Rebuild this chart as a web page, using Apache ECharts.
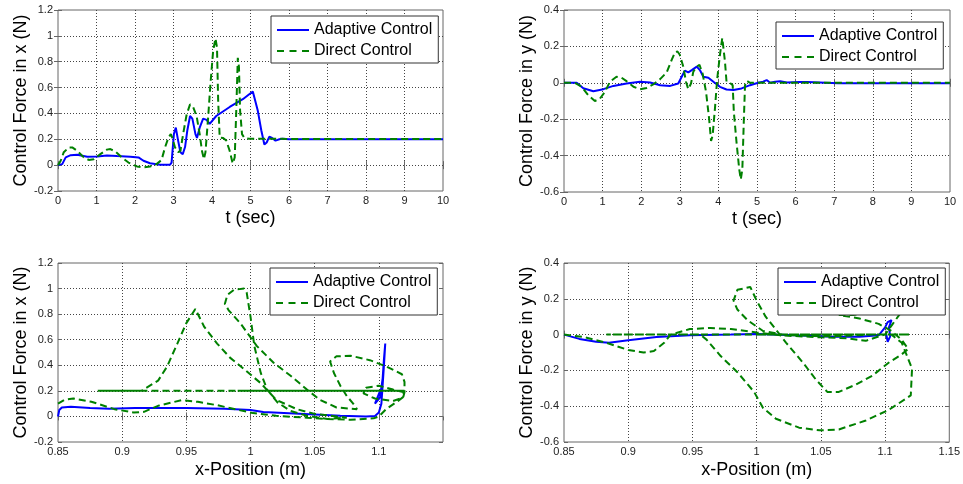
<!DOCTYPE html>
<html>
<head>
<meta charset="utf-8">
<script src="https://cdn.jsdelivr.net/npm/echarts@6/dist/echarts.min.js"></script>
<style>
  html, body { margin: 0; padding: 0; background: #fff; }
  #chart { width: 963px; height: 484px; }
</style>
</head>
<body>
<div id="chart"></div>
<script>
// ---- data ----
var legendNames = ['Adaptive Control', 'Direct Control'];

// top-left: control force in x vs time
var fxAdaptiveT = [[0,0],[0.11,0.008],[0.2,0.06],[0.33,0.077],[0.5,0.08],[0.76,0.065],[1.02,0.067],[1.27,0.075],[1.53,0.07],[1.88,0.065],[2.09,0.06],[2.22,0.034],[2.39,0.015],[2.65,0.003],[2.91,0.003],[2.95,0.02],[3.01,0.24],[3.06,0.29],[3.12,0.19],[3.18,0.1],[3.24,0.085],[3.3,0.14],[3.36,0.27],[3.43,0.38],[3.49,0.36],[3.57,0.24],[3.61,0.21],[3.68,0.29],[3.77,0.36],[3.86,0.35],[3.94,0.32],[4.11,0.38],[4.46,0.45],[4.8,0.51],[5.06,0.57],[5.1,0.56],[5.19,0.42],[5.28,0.27],[5.36,0.16],[5.42,0.175],[5.49,0.22],[5.56,0.21],[5.65,0.19],[5.75,0.2],[5.83,0.205],[6,0.2],[10,0.2]];
var fxDirectT = [[0,0],[0.07,0.034],[0.15,0.1],[0.28,0.137],[0.37,0.137],[0.5,0.11],[0.67,0.06],[0.8,0.04],[0.93,0.046],[1.1,0.085],[1.27,0.12],[1.36,0.124],[1.49,0.106],[1.66,0.06],[1.83,0.02],[2.05,-0.01],[2.22,-0.018],[2.39,-0.01],[2.56,0.008],[2.69,0.04],[2.78,0.137],[2.87,0.214],[2.93,0.24],[2.97,0.21],[3.04,0.137],[3.12,0.1],[3.18,0.11],[3.25,0.24],[3.34,0.39],[3.43,0.47],[3.51,0.45],[3.6,0.38],[3.68,0.24],[3.74,0.11],[3.79,0.046],[3.83,0.1],[3.9,0.37],[3.96,0.63],[4.03,0.885],[4.09,0.98],[4.13,0.91],[4.16,0.5],[4.2,0.214],[4.29,0.21],[4.37,0.19],[4.46,0.11],[4.52,0.034],[4.54,0.013],[4.59,0.06],[4.63,0.42],[4.67,0.83],[4.7,0.76],[4.73,0.42],[4.78,0.24],[4.84,0.21],[4.97,0.204],[6,0.203],[10,0.203]];

// top-right: control force in y vs time
var fyAdaptiveT = [[0,0],[0.33,0],[0.5,-0.03],[0.76,-0.046],[1.02,-0.035],[1.28,-0.017],[1.62,-0.004],[1.97,0.006],[2.23,0.002],[2.49,-0.013],[2.75,-0.017],[2.96,-0.004],[3.05,0.033],[3.13,0.067],[3.22,0.057],[3.31,0.07],[3.44,0.089],[3.52,0.07],[3.61,0.033],[3.74,0.028],[3.87,0.006],[4.04,-0.022],[4.21,-0.037],[4.39,-0.04],[4.6,-0.031],[4.82,-0.013],[5.03,0],[5.16,0.006],[5.25,0.015],[5.34,0],[5.47,0.006],[5.6,0.009],[5.77,0.002],[6.1,0.004],[6.3,0.004],[7.1,-0.003],[10,-0.003]];
var fyDirectT = [[0,0],[0.28,0],[0.46,-0.022],[0.63,-0.069],[0.8,-0.1],[0.93,-0.087],[1.06,-0.05],[1.19,0.006],[1.36,0.033],[1.49,0.028],[1.62,0.009],[1.8,-0.022],[1.97,-0.035],[2.14,-0.028],[2.31,-0.009],[2.49,0.02],[2.66,0.057],[2.79,0.126],[2.88,0.169],[2.94,0.172],[3.0,0.154],[3.09,0.089],[3.16,0.006],[3.22,-0.035],[3.29,-0.004],[3.35,0.061],[3.44,0.089],[3.51,0.098],[3.59,0.052],[3.68,-0.05],[3.76,-0.198],[3.81,-0.319],[3.85,-0.29],[3.91,-0.143],[3.97,0.024],[4.04,0.154],[4.1,0.246],[4.13,0.25],[4.17,0.117],[4.21,0.006],[4.3,0],[4.37,-0.013],[4.4,-0.161],[4.47,-0.328],[4.54,-0.476],[4.58,-0.531],[4.62,-0.476],[4.66,-0.198],[4.69,-0.013],[4.73,0.011],[4.82,0],[5.08,0],[10,0]];

// bottom-left: control force in x vs x-position
var fxAdaptiveX = [[0.85,0],[0.851,0.05],[0.853,0.07],[0.86,0.075],[0.875,0.065],[0.89,0.06],[0.91,0.066],[0.95,0.065],[0.98,0.06],[1.0,0.05],[1.01,0.035],[1.03,0.025],[1.05,0.015],[1.07,0.005],[1.09,0],[1.097,0.004],[1.1,0.03],[1.102,0.1],[1.103,0.25],[1.104,0.4],[1.105,0.57],[1.104,0.45],[1.103,0.3],[1.101,0.15],[1.097,0.1],[1.101,0.2],[1.103,0.24],[1.102,0.2]];
var fxDirectX = [[0.85,0.1],[0.855,0.13],[0.862,0.14],[0.876,0.115],[0.894,0.057],[0.909,0.03],[0.917,0.036],[0.928,0.083],[0.946,0.127],[0.959,0.114],[0.974,0.088],[0.99,0.052],[1.002,0.026],[1.02,0.005],[1.044,-0.01],[1.06,-0.02],[1.078,-0.026],[1.096,-0.015],[1.1,0],
  [1.106,0.06],[1.115,0.12],[1.12,0.16],[1.119,0.19],[1.111,0.21],[1.1,0.24],[1.09,0.225],[1.088,0.18],[1.097,0.14],[1.111,0.12],[1.119,0.15],[1.12,0.19],
  [1.12,0.27],[1.118,0.33],[1.106,0.39],[1.093,0.44],[1.078,0.475],[1.067,0.47],[1.062,0.43],[1.065,0.34],[1.07,0.24],[1.075,0.16],[1.08,0.1],[1.083,0.057],
  [1.067,0.07],[1.054,0.13],[1.044,0.21],[1.031,0.32],[1.018,0.42],[1.005,0.55],[0.992,0.73],[0.983,0.83],[0.98,0.88],[0.982,0.95],[0.987,0.99],[0.995,1.0],[0.997,0.97],[1.0,0.78],[1.003,0.55],[1.008,0.34],[1.013,0.21],[1.021,0.11],[1.031,0.044],[1.044,0.005],[1.06,-0.02],[1.075,-0.01],
  [1.05,0.02],[1.036,0.057],[1.02,0.13],[1.008,0.26],[0.995,0.37],[0.984,0.46],[0.974,0.57],[0.964,0.7],[0.957,0.84],
  [0.95,0.73],[0.943,0.57],[0.935,0.39],[0.928,0.28],[0.915,0.2],[0.881,0.2],[1.12,0.2],[0.99,0.2],[1.12,0.2],[1.103,0.2]];

// bottom-right: control force in y vs x-position
var fyAdaptiveX = [[0.85,0],[0.862,-0.024],[0.875,-0.04],[0.885,-0.046],[0.9,-0.032],[0.922,-0.014],[0.948,-0.004],[0.98,0],[1.0,0.004],[1.03,-0.004],[1.06,-0.012],[1.08,-0.012],[1.095,-0.004],[1.1,0.04],[1.102,0.07],[1.105,0.08],[1.103,0.04],[1.104,-0.01],[1.102,-0.04],[1.101,0],[1.1,0]];
var fyDirectX = [[0.85,0],[0.865,-0.013],[0.883,-0.046],[0.9,-0.086],[0.912,-0.1],[0.92,-0.092],[0.928,-0.046],[0.933,0],[0.948,0.031],[0.964,0.037],[0.98,0.031],[1.0,0.012],[1.02,-0.005],[1.05,-0.015],[1.07,-0.02],[1.085,-0.035],[1.095,-0.01],[1.1,0],
  [1.106,0.06],[1.112,0.12],[1.115,0.17],[1.105,0.15],[1.09,0.125],[1.075,0.11],[1.064,0.11],[1.08,0.09],[1.095,0.06],[1.105,0.02],[1.113,-0.03],[1.118,-0.08],
  [1.113,-0.11],[1.103,-0.156],[1.09,-0.23],[1.077,-0.28],[1.064,-0.32],[1.055,-0.32],[1.046,-0.25],[1.036,-0.156],[1.023,-0.046],[1.015,0.028],[1.007,0.1],[1.0,0.19],[0.995,0.266],
  [0.985,0.25],[0.982,0.19],[0.985,0.14],[0.993,0.08],[1.005,0.02],[1.02,0],[1.06,-0.01],[1.09,0],[1.105,0],
  [1.113,-0.046],[1.116,-0.1],[1.121,-0.19],[1.12,-0.34],[1.103,-0.42],[1.085,-0.48],[1.064,-0.53],[1.049,-0.535],[1.033,-0.52],[1.015,-0.47],[1.005,-0.41],[0.998,-0.32],[0.985,-0.21],[0.972,-0.12],[0.961,-0.028],[0.956,0],
  [0.93,0],[0.883,0],[1.119,0],[1.0,0],[1.119,0],[1.1,0]];

var fontFamily = 'Liberation Sans, Arial, sans-serif';

var myChart = echarts.init(document.getElementById('chart'));

var grids = [
  { left: 58, top: 10, width: 385, height: 181 },
  { left: 564, top: 10, width: 386, height: 182 },
  { left: 58, top: 263, width: 385, height: 179 },
  { left: 564, top: 263, width: 386, height: 179 }
];
var xRanges = [[0, 10, 1], [0, 10, 1], [0.85, 1.15, 0.05], [0.85, 1.15, 0.05]];
var yRanges = [[-0.2, 1.2, 0.2], [-0.6, 0.4, 0.2], [-0.2, 1.2, 0.2], [-0.6, 0.4, 0.2]];
var xNames = ['t (sec)', 't (sec)', 'x-Position (m)', 'x-Position (m)'];
var yNames = ['Control Force in x (N)', 'Control Force in y (N)', 'Control Force in x (N)', 'Control Force in y (N)'];
var legendPos = [[271, 16], [776, 22], [270, 268], [778, 268]];

// plain line swatches for the legend (solid / dashed)
var legendItems = [
  { name: legendNames[0], icon: 'path://M0,0H32V2H0Z', itemStyle: { color: '#0000ff' } },
  { name: legendNames[1], icon: 'path://M0,0H7V2H0Z M12.5,0H19.5V2H12.5Z M25,0H32V2H25Z', itemStyle: { color: '#008000' } }
];

var xAxes = [], yAxes = [], legends = [];
grids.forEach(function (g, i) {
  g.show = true;
  g.borderColor = '#666';
  g.borderWidth = 1;
  g.backgroundColor = '#fff';
  var tickStyle = { show: true, inside: true, length: 4, lineStyle: { color: '#666' } };
  var gridLine = { show: true, showMinLine: false, showMaxLine: false, lineStyle: { color: '#444', type: [1, 2], width: 1 } };
  xAxes.push({
    type: 'value', gridIndex: i, position: 'bottom',
    min: xRanges[i][0], max: xRanges[i][1], interval: xRanges[i][2],
    axisLine: { show: false }, axisTick: tickStyle, splitLine: gridLine,
    axisLabel: { fontSize: 11, color: '#222', fontFamily: fontFamily, margin: 4, showMaxLabel: i !== 2 },
    name: xNames[i], nameLocation: 'middle', nameGap: i < 2 ? 18 : 19,
    nameTextStyle: { fontSize: 18, color: '#000', fontFamily: fontFamily }
  });
  xAxes.push({
    type: 'value', gridIndex: i, position: 'top',
    min: xRanges[i][0], max: xRanges[i][1], interval: xRanges[i][2],
    axisLine: { show: false }, axisTick: tickStyle, splitLine: { show: false }, axisLabel: { show: false }
  });
  yAxes.push({
    type: 'value', gridIndex: i, position: 'left',
    min: yRanges[i][0], max: yRanges[i][1], interval: yRanges[i][2],
    axisLine: { show: false }, axisTick: tickStyle, splitLine: gridLine,
    axisLabel: { fontSize: 11, color: '#222', fontFamily: fontFamily, margin: 5 },
    name: yNames[i], nameLocation: 'middle', nameGap: 28,
    nameTextStyle: { fontSize: 18, color: '#000', fontFamily: fontFamily }
  });
  yAxes.push({
    type: 'value', gridIndex: i, position: 'right',
    min: yRanges[i][0], max: yRanges[i][1], interval: yRanges[i][2],
    axisLine: { show: false }, axisTick: tickStyle, splitLine: { show: false }, axisLabel: { show: false }
  });
  legends.push({
    data: legendItems, orient: 'vertical', left: legendPos[i][0], top: legendPos[i][1],
    backgroundColor: '#fff', borderColor: '#333', borderWidth: 1,
    padding: [6, 6, 4, 6], itemGap: 5, itemWidth: 32, itemHeight: 14,
    selectedMode: false,
    textStyle: { fontSize: 16, color: '#000', fontFamily: fontFamily }
  });
});

function adaptive(data, i) {
  return {
    name: legendNames[0], type: 'line', data: data,
    xAxisIndex: i * 2, yAxisIndex: i * 2,
    showSymbol: false, symbol: 'none', animation: false,
    lineStyle: { color: '#0000ff', width: 2 }, itemStyle: { color: '#0000ff' }
  };
}
function direct(data, i) {
  return {
    name: legendNames[1], type: 'line', data: data,
    xAxisIndex: i * 2, yAxisIndex: i * 2,
    showSymbol: false, symbol: 'none', animation: false,
    lineStyle: { color: '#008000', width: 2, type: [7, 4] }, itemStyle: { color: '#008000' }
  };
}

var option = {
  animation: false,
  backgroundColor: '#fff',
  grid: grids,
  xAxis: xAxes,
  yAxis: yAxes,
  legend: legends,
  series: [
    adaptive(fxAdaptiveT, 0), direct(fxDirectT, 0),
    adaptive(fyAdaptiveT, 1), direct(fyDirectT, 1),
    adaptive(fxAdaptiveX, 2), direct(fxDirectX, 2),
    adaptive(fyAdaptiveX, 3), direct(fyDirectX, 3)
  ]
};

myChart.setOption(option);
</script>
</body>
</html>
